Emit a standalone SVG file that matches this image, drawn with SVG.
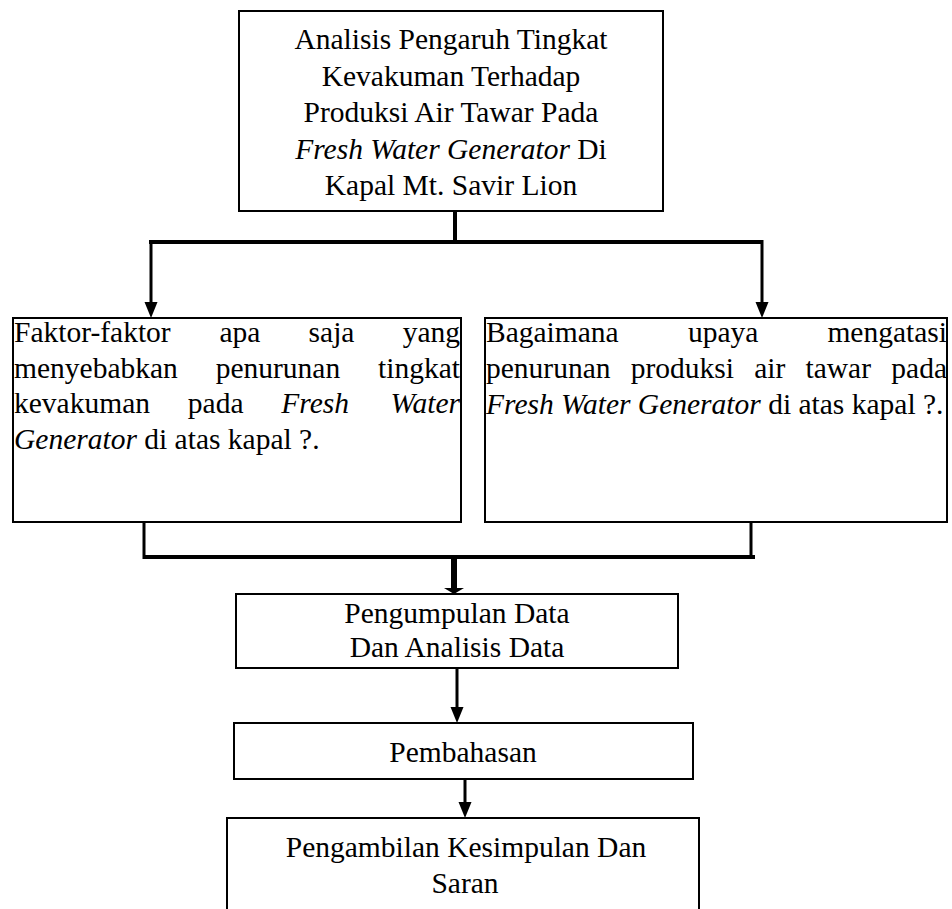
<svg xmlns="http://www.w3.org/2000/svg" width="952" height="909" viewBox="0 0 952 909">
<style>
  .box { fill: #fff; stroke: #000; stroke-width: 2; }
  .t { font-family: "Liberation Serif", "Times New Roman", serif; font-size: 29.5px; fill: #000; }
  .c { text-anchor: middle; }
  .e { text-anchor: end; }
  .i { font-style: italic; }
  .ln { stroke: #000; fill: none; stroke-linecap: butt; }
  .thin { stroke-width: 3; }
  .thick { stroke-width: 4; }
</style>
<defs>
  <marker id="arr" viewBox="0 -7 16 14" refX="0" refY="0" markerWidth="16" markerHeight="14" markerUnits="userSpaceOnUse" orient="auto">
    <path d="M0,-6.5 L16,0 L0,6.5 z" fill="#000"/>
  </marker>
</defs>
<rect width="952" height="909" fill="#fff"/>

<g id="connectors">
  <line class="ln thick" x1="455" y1="211" x2="455" y2="244"/>
  <line class="ln thick" x1="149" y1="242" x2="453" y2="242"/>
  <line class="ln thick" x1="456" y1="242" x2="762" y2="242"/>
  <line class="ln thin" x1="151" y1="240" x2="151" y2="302" marker-end="url(#arr)"/>
  <line class="ln thin" x1="762" y1="240" x2="762" y2="302" marker-end="url(#arr)"/>
  <line class="ln thin" x1="144" y1="518" x2="144" y2="559"/>
  <line class="ln thin" x1="751" y1="515" x2="751" y2="559"/>
  <line class="ln thick" x1="143" y1="557" x2="755" y2="557"/>
  <line class="ln" stroke-width="6" x1="454" y1="557" x2="454" y2="589"/>
  <polygon points="444,588 464,588 454,594" fill="#000"/>
  <line class="ln thin" x1="457" y1="668" x2="457" y2="707" marker-end="url(#arr)"/>
  <line class="ln thin" x1="465" y1="779" x2="465" y2="802" marker-end="url(#arr)"/>
</g>

<g id="judul">
  <rect class="box" x="239" y="11" width="424" height="200"/>
  <text class="t c" x="451" y="49">Analisis Pengaruh Tingkat</text>
  <text class="t c" x="451" y="85.5">Kevakuman Terhadap</text>
  <text class="t c" x="451" y="122">Produksi Air Tawar Pada</text>
  <text class="t c" x="451" y="158.5"><tspan class="i">Fresh Water Generator</tspan> Di</text>
  <text class="t c" x="451" y="195">Kapal Mt. Savir Lion</text>
</g>

<g id="rumusan1">
  <rect class="box" x="13" y="318" width="448" height="204"/>
  <text class="t" x="14" y="342">Faktor-faktor</text>
  <text class="t" x="219.5" y="342">apa</text>
  <text class="t" x="308.6" y="342">saja</text>
  <text class="t e" x="460" y="342">yang</text>
  <text class="t" x="14" y="378">menyebabkan</text>
  <text class="t" x="215.7" y="378">penurunan</text>
  <text class="t e" x="460" y="378">tingkat</text>
  <text class="t" x="14" y="413">kevakuman</text>
  <text class="t" x="187.8" y="413">pada</text>
  <text class="t i" x="281.3" y="413">Fresh</text>
  <text class="t i e" x="460" y="413">Water</text>
  <text class="t" x="14" y="449"><tspan class="i">Generator</tspan> di atas kapal ?.</text>
</g>

<g id="rumusan2">
  <rect class="box" x="485" y="318" width="462" height="204"/>
  <text class="t" x="486" y="342">Bagaimana</text>
  <text class="t" x="687.9" y="342">upaya</text>
  <text class="t e" x="947" y="342">mengatasi</text>
  <text class="t" x="486" y="378">penurunan</text>
  <text class="t" x="630.7" y="378">produksi</text>
  <text class="t" x="754.2" y="378">air</text>
  <text class="t" x="805.5" y="378">tawar</text>
  <text class="t e" x="947" y="378">pada</text>
  <text class="t" x="486" y="414"><tspan class="i">Fresh Water Generator</tspan> di atas kapal ?.</text>
</g>

<g id="pengumpulan">
  <rect class="box" x="236" y="594" width="442" height="74"/>
  <text class="t c" x="457" y="623">Pengumpulan Data</text>
  <text class="t c" x="457" y="657">Dan Analisis Data</text>
</g>

<g id="pembahasan">
  <rect class="box" x="234" y="723" width="459" height="56"/>
  <text class="t c" x="463" y="762">Pembahasan</text>
</g>

<g id="kesimpulan">
  <rect class="box" x="227" y="818" width="472" height="100"/>
  <text class="t c" x="466" y="857">Pengambilan Kesimpulan Dan</text>
  <text class="t c" x="465" y="893">Saran</text>
</g>
</svg>
